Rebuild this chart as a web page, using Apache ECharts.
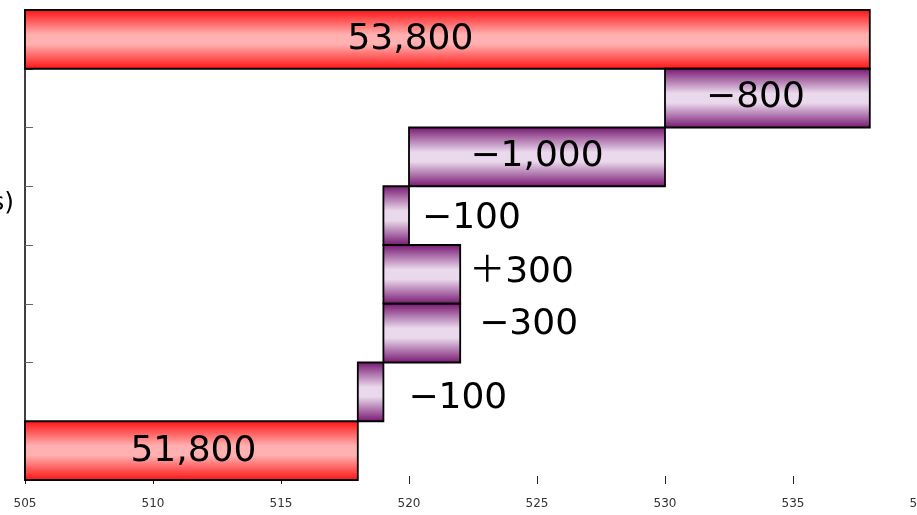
<!DOCTYPE html>
<html>
<head>
<meta charset="utf-8">
<script src="https://cdn.jsdelivr.net/npm/echarts@6/dist/echarts.min.js"></script>
<style>
  html, body { margin: 0; padding: 0; background: #fff; }
  #main { width: 917px; height: 515px; }
</style>
</head>
<body>
<div id="main"></div>
<script>
// rows, top to bottom (hundreds of people)
var rows = ['total2', 'step1', 'step2', 'step3', 'step4', 'step5', 'step6', 'total1'];
var barStart = [505, 530, 520, 519, 519, 519, 518, 505];
var barEnd = [538, 538, 530, 520, 522, 522, 519, 518];
var barLabels = ['53,800', '\u2212800', '\u22121,000', '\u2212100', '\uff0b300', '\u2212300', '\u2212100', '51,800'];
var isTotal = [true, false, false, false, false, false, false, true];
var xTicks = [505, 510, 515, 520, 525, 530, 535, 540];

// label placement (style only)
var labelPlace = ['in', 'in', 'in', 'right', 'right', 'right', 'right', 'in'];
var labelDx = [-37, -12, 0, 13, 9, 19, 25, 2];
var labelDy = [0, 0, 0, 3, -2, -8, 7, 1];

var myChart = echarts.init(document.getElementById('main'));

function grad(dark, light) {
    return new echarts.graphic.LinearGradient(0, 0, 0, 1, [
        {offset: 0, color: dark},
        {offset: 0.42, color: light},
        {offset: 0.58, color: light},
        {offset: 1, color: dark}
    ]);
}

var seriesData = [];
for (var i = 0; i < rows.length; i++) {
    seriesData.push([barStart[i], barEnd[i], i]);
}

var option = {
    animation: false,
    grid: {left: 25, right: -4, top: 10, bottom: 35, outerBoundsMode: 'none', containLabel: false},
    xAxis: [{
        type: 'value',
        min: xTicks[0],
        max: xTicks[xTicks.length - 1],
        interval: 5,
        axisLine: {lineStyle: {color: '#000', width: 1}},
        axisTick: {show: true, length: 4, lineStyle: {color: '#222'}},
        axisLabel: {color: '#333', fontSize: 12, fontFamily: 'DejaVu Sans', margin: 18},
        splitLine: {show: false}
    }, {
        type: 'value',
        position: 'bottom',
        min: xTicks[0],
        max: xTicks[xTicks.length - 1],
        interval: 5,
        axisLine: {show: false},
        axisTick: {show: true, inside: true, length: 4, lineStyle: {color: '#222'}},
        axisLabel: {show: false},
        splitLine: {show: false}
    }],
    yAxis: {
        type: 'category',
        data: rows,
        inverse: true,
        axisLine: {lineStyle: {color: '#000', width: 1.5}},
        axisTick: {show: true, inside: true, length: 8, lineStyle: {color: '#666'}},
        axisLabel: {show: false}
    },
    graphic: [{
        type: 'text',
        right: 903,
        top: 191,
        style: {text: '(hundreds)', font: '25px "DejaVu Sans"', fill: '#000'}
    }],
    series: [{
        type: 'custom',
        data: seriesData,
        encode: {x: [0, 1], y: 2},
        renderItem: function (params, api) {
            var idx = api.value(2);
            var s = api.coord([api.value(0), idx]);
            var e = api.coord([api.value(1), idx]);
            var h = api.size([0, 1])[1];
            var x0 = s[0], x1 = e[0], yc = s[1];
            var fill = isTotal[idx] ? grad('#ff0f0f', '#ffb0b0') : grad('#75146f', '#ead8ec');
            var tx, align;
            if (labelPlace[idx] === 'in') {
                tx = (x0 + x1) / 2 + labelDx[idx];
                align = 'center';
            } else {
                tx = x1 + labelDx[idx];
                align = 'left';
            }
            return {
                type: 'group',
                children: [{
                    type: 'rect',
                    shape: {x: x0, y: yc - h / 2, width: x1 - x0, height: h},
                    style: {fill: fill, stroke: '#000', lineWidth: 1.8}
                }, {
                    type: 'text',
                    style: {
                        text: barLabels[idx],
                        x: tx,
                        y: yc + labelDy[idx],
                        align: align,
                        verticalAlign: 'middle',
                        font: '36px "DejaVu Sans", "Noto Sans CJK JP"',
                        fill: '#000'
                    },
                    z2: 10
                }]
            };
        }
    }]
};

myChart.setOption(option);
</script>
</body>
</html>
